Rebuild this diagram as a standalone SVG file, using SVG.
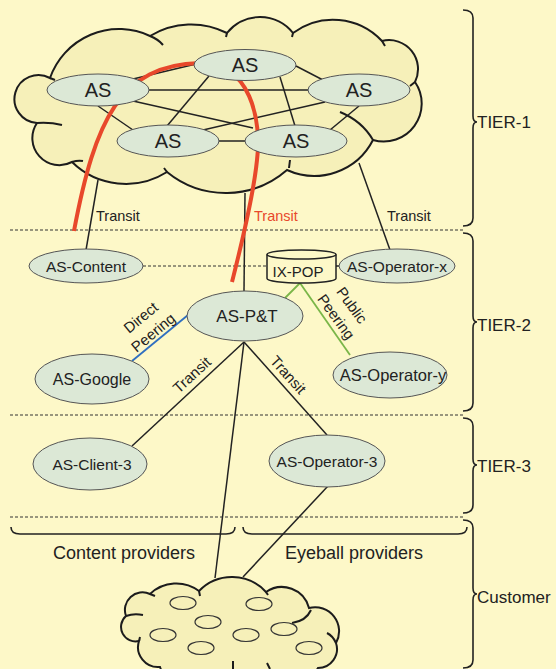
<svg xmlns="http://www.w3.org/2000/svg" width="556" height="669" viewBox="0 0 556 669">
<style>
text{font-family:"Liberation Sans",Arial,sans-serif;fill:#222}
.cloud{fill:#f6f0b9;stroke:#1c1c1c;stroke-width:2}
.tick{fill:none;stroke:#1c1c1c;stroke-width:2}
.node{fill:#dce8d6;stroke:#555;stroke-width:1}
.ln{stroke:#222;stroke-width:1.5;fill:none}
.dash{stroke:#333;stroke-width:1;stroke-dasharray:3 2;fill:none}
.brace{fill:none;stroke:#222;stroke-width:1.6}
.small{fill:none;stroke:#333;stroke-width:1.2}
.as{font-size:20px;text-anchor:middle}
.nl{font-size:15.5px;text-anchor:middle}
.lab{font-size:14.5px}
.tier{font-size:17px}
.prov{font-size:18px}
</style>
<rect width="556" height="669" fill="#fdf8c8"/>

<g id="tier1-cloud">
<path class="cloud" d="M50 78 A73 73 0 0 1 150 36 A79 79 0 0 1 227 33 A42 42 0 0 1 293 33 A67 67 0 0 1 382 41 A29 29 0 0 1 415 82 A38 38 0 0 1 373 140 A66 66 0 0 1 287 170 A93 93 0 0 1 167 172 A77 77 0 0 1 72 162 A27 27 0 0 1 37 123 A24 24 0 1 1 50 78 Z"/>
<path class="tick" d="M150 36 Q158 39 163 45 M227 33 L226 37 M293 33 L292 37 M382 41 L385 46 M415 82 L410 86 M340 112 Q362 121 373 140 M289 168 L290 160 M167 172 L164 168 M72 162 Q78 160 83 161 M37 123 Q50 122 62 125 M50 78 L55 80"/>
</g>

<g id="dividers">
<line class="dash" x1="10" y1="230" x2="463" y2="230"/>
<line class="dash" x1="10" y1="415" x2="463" y2="415"/>
<line class="dash" x1="10" y1="517" x2="463" y2="517"/>
</g>

<g id="connectors">
<line class="ln" x1="149" y1="90" x2="308" y2="90"/>
<line class="ln" x1="296" y1="66" x2="323" y2="80"/>
<line class="ln" x1="133" y1="79" x2="196" y2="64"/>
<line class="ln" x1="209" y1="76" x2="167" y2="126"/>
<line class="ln" x1="280" y1="77" x2="295" y2="126"/>
<line class="ln" x1="98" y1="106" x2="133" y2="130"/>
<line class="ln" x1="133" y1="101" x2="253" y2="128"/>
<line class="ln" x1="325" y1="102" x2="203" y2="130"/>
<line class="ln" x1="359" y1="106" x2="330" y2="130"/>
<line class="ln" x1="218" y1="141" x2="245" y2="141"/>
<line class="ln" x1="98" y1="180" x2="86" y2="250"/>
<line class="ln" x1="245" y1="193" x2="244" y2="291"/>
<line class="ln" x1="359" y1="163" x2="390" y2="250"/>
<line class="dash" x1="143" y1="266" x2="267" y2="266"/>
<line class="ln" x1="336" y1="266" x2="340" y2="266"/>
<line stroke="#2f6fc0" stroke-width="1.8" x1="132" y1="361" x2="188" y2="315"/>
<line stroke="#7ab648" stroke-width="1.8" x1="300" y1="283" x2="285" y2="298"/>
<line stroke="#7ab648" stroke-width="1.8" x1="300" y1="283" x2="350" y2="355"/>
<line class="ln" x1="244" y1="342" x2="132" y2="446"/>
<line class="ln" x1="244" y1="342" x2="327" y2="435"/>
<line class="ln" x1="244" y1="342" x2="215" y2="578"/>
<line class="ln" x1="328" y1="486" x2="243" y2="577"/>
<path d="M74 231 C95 120 120 65 200 63 C250 62 262 120 257 160 C253 200 240 250 232 282" fill="none" stroke="#e8482b" stroke-width="4"/>
</g>

<g id="as-top"><ellipse class="node" cx="245" cy="65" rx="51" ry="15.5"/><text class="as" x="245" y="72">AS</text></g>
<g id="as-left"><ellipse class="node" cx="98" cy="90" rx="51" ry="16"/><text class="as" x="98" y="97">AS</text></g>
<g id="as-right"><ellipse class="node" cx="359" cy="90" rx="51" ry="16"/><text class="as" x="359" y="97">AS</text></g>
<g id="as-bl"><ellipse class="node" cx="168" cy="141" rx="51" ry="16"/><text class="as" x="168" y="148">AS</text></g>
<g id="as-br"><ellipse class="node" cx="296" cy="141" rx="51" ry="16"/><text class="as" x="296" y="148">AS</text></g>

<g id="transit-labels">
<text class="lab" x="96" y="221">Transit</text>
<text class="lab" x="254" y="221" style="fill:#e8482b">Transit</text>
<text class="lab" x="387" y="221">Transit</text>
</g>

<g id="as-content"><ellipse class="node" cx="86" cy="266" rx="57" ry="17"/><text class="nl" x="86" y="271.5">AS-Content</text></g>
<g id="ix-pop">
<path d="M267 254.5 L267 278.5 A34.5 4.5 0 0 0 336 278.5 L336 254.5" fill="#fdf8c8" stroke="#222" stroke-width="1.5"/>
<ellipse cx="301.5" cy="254.5" rx="34.5" ry="4.5" fill="#fdf8c8" stroke="#222" stroke-width="1.5"/>
<text x="298" y="277" style="font-size:15px;text-anchor:middle">IX-POP</text>
</g>
<g id="as-operator-x"><ellipse class="node" cx="397" cy="266" rx="58" ry="17"/><text class="nl" x="397" y="271.5">AS-Operator-x</text></g>
<g id="as-pt"><ellipse class="node" cx="245" cy="316" rx="58" ry="25"/><text class="nl" x="247" y="322" style="font-size:17px">AS-P&amp;T</text></g>
<g id="as-google"><ellipse class="node" cx="92" cy="379" rx="57" ry="25"/><text class="nl" x="92" y="385" style="font-size:16px">AS-Google</text></g>
<g id="as-operator-y"><ellipse class="node" cx="390" cy="375" rx="57" ry="23"/><text class="nl" x="393" y="381" style="font-size:16.5px">AS-Operator-y</text></g>

<g id="peering-labels">
<g transform="translate(147 325) rotate(-39.5)">
<text class="lab" x="0" y="-4.5" text-anchor="middle" style="font-size:15px">Direct</text>
<text class="lab" x="0" y="15" text-anchor="middle" style="font-size:15px">Peering</text>
</g>
<g transform="translate(344 311) rotate(54)">
<text class="lab" x="0" y="-4.5" text-anchor="middle" style="font-size:15px">Public</text>
<text class="lab" x="0" y="15" text-anchor="middle" style="font-size:15px">Peering</text>
</g>
<text class="lab" transform="translate(192 375) rotate(-42.5)" x="0" y="5" text-anchor="middle" style="font-size:15px">Transit</text>
<text class="lab" transform="translate(288 375) rotate(48)" x="0" y="5" text-anchor="middle" style="font-size:15px">Transit</text>
</g>

<g id="as-client-3"><ellipse class="node" cx="90" cy="464" rx="57" ry="26"/><text class="nl" x="92" y="470">AS-Client-3</text></g>
<g id="as-operator-3"><ellipse class="node" cx="327" cy="461" rx="58" ry="26"/><text class="nl" x="327" y="466.5">AS-Operator-3</text></g>

<g id="provider-braces">
<path class="brace" d="M11 527 Q11 534 20 534 L226 534 Q235 534 235 527"/>
<path class="brace" d="M243 527 Q243 534 252 534 L458 534 Q467 534 467 527"/>
<text class="prov" x="53" y="559">Content providers</text>
<text class="prov" x="285" y="559">Eyeball providers</text>
</g>

<g id="customer-cloud">
<path class="cloud" d="M150 594 A38 38 0 0 1 199 591 A46 46 0 0 1 266 592 A28 28 0 0 1 309 608 A24 24 0 0 1 336 643 A19 19 0 0 1 318 668 A40 40 0 0 1 270 685 A40 40 0 0 1 200 685 A30 30 0 0 1 160 667 A20 20 0 0 1 139 641 A14.5 14.5 0 0 1 126 616 A17.6 17.6 0 0 1 150 594 Z"/>
<path class="tick" d="M199 591 L200 596 M266 592 L268 595 M311 610 Q306 621 292 623 M336 643 Q333 636 327 633 M233 661 L233 669 M267 663 L270 669 M139 641 L140 637 M126 616 Q134 613 143 615 M150 594 L155 596"/>
<ellipse class="small" cx="183" cy="603" rx="13" ry="6.5"/>
<ellipse class="small" cx="259" cy="604" rx="13" ry="6.5"/>
<ellipse class="small" cx="208" cy="622" rx="13" ry="6.5"/>
<ellipse class="small" cx="163" cy="635" rx="13" ry="6.5"/>
<ellipse class="small" cx="246" cy="635" rx="13" ry="6.5"/>
<ellipse class="small" cx="284" cy="629" rx="13" ry="6.5"/>
<ellipse class="small" cx="201" cy="648" rx="13" ry="6.5"/>
<ellipse class="small" cx="309" cy="648" rx="13" ry="6.5"/>
</g>

<g id="tier-braces">
<path class="brace" d="M463 10 Q473 10 473 18 L473 116 Q473 122 477 122 Q473 122 473 128 L473 218 Q473 226 463 226"/>
<path class="brace" d="M463 233 Q473 233 473 241 L473 316 Q473 322 477 322 Q473 322 473 328 L473 403 Q473 411 463 411"/>
<path class="brace" d="M463 418 Q473 418 473 426 L473 459 Q473 465 477 465 Q473 465 473 471 L473 505 Q473 513 463 513"/>
<path class="brace" d="M463 520 Q473 520 473 528 L473 588 Q473 594 477 594 Q473 594 473 600 L473 660 Q473 668 463 668"/>
<text class="tier" x="477" y="128">TIER-1</text>
<text class="tier" x="477" y="331">TIER-2</text>
<text class="tier" x="477" y="472">TIER-3</text>
<text class="tier" x="477" y="603">Customer</text>
</g>
</svg>
